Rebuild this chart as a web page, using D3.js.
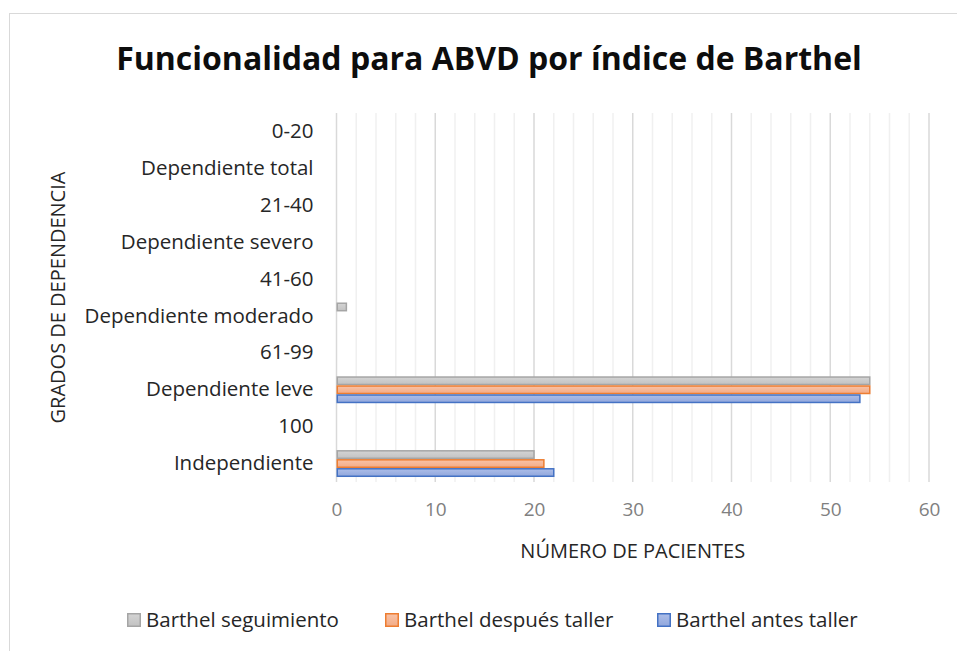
<!DOCTYPE html>
<html>
<head>
<meta charset="utf-8">
<script src="https://cdn.jsdelivr.net/npm/d3@7"></script>
<style>
  body { margin: 0; background: #fff; }
  svg { display: block; font-family: "Open Sans", sans-serif; }
</style>
</head>
<body>
<svg class="chart"></svg>
<script>
var categories = ["0-20", "Dependiente total", "21-40", "Dependiente severo", "41-60",
    "Dependiente moderado", "61-99", "Dependiente leve", "100", "Independiente"];
var antesTaller = [0, 0, 0, 0, 0, 0, 0, 53, 0, 22];
var despuesTaller = [0, 0, 0, 0, 0, 0, 0, 54, 0, 21];
var seguimiento = [0, 0, 0, 0, 0, 1, 0, 54, 0, 20];
var seriesNames = ["Barthel seguimiento", "Barthel después taller", "Barthel antes taller"];
var xTicks = [0, 10, 20, 30, 40, 50, 60];

function show() {
    'use strict';
    var width = 957, height = 651;
    var plot = {left: 336.5, right: 929, top: 113, bottom: 482};
    var font = "'Open Sans', sans-serif";

    var svg = d3.select(".chart")
        .attr("width", width)
        .attr("height", height);

    var series = [
        {name: seriesNames[0], values: seguimiento, id: "g-gray", c1: "#d4d4d4", c2: "#c2c2c2", stroke: "#a5a5a5"},
        {name: seriesNames[1], values: despuesTaller, id: "g-orange", c1: "#f9c3a7", c2: "#f3ab86", stroke: "#ed7d31"},
        {name: seriesNames[2], values: antesTaller, id: "g-blue", c1: "#adbee8", c2: "#91a7dd", stroke: "#4472c4"}
    ];

    // gradient fills like the Excel style
    var defs = svg.append("defs");
    series.forEach(function(s) {
        var grad = defs.append("linearGradient")
            .attr("id", s.id).attr("x1", 0).attr("y1", 0).attr("x2", 0).attr("y2", 1);
        grad.append("stop").attr("offset", "0%").attr("stop-color", s.c1);
        grad.append("stop").attr("offset", "100%").attr("stop-color", s.c2);
    });

    // chart area border
    svg.append("rect")
        .attr("x", 9.5).attr("y", 13.5)
        .attr("width", width + 10).attr("height", height + 10)
        .attr("fill", "#fff").attr("stroke", "#d9d9d9");

    var x = d3.scaleLinear().domain([0, 60]).range([plot.left, plot.right]);
    var y = d3.scaleBand().domain(categories).range([plot.top, plot.bottom])
        .paddingInner(0.27).paddingOuter(0.135);
    var y1 = d3.scaleBand().domain(seriesNames).range([0, y.bandwidth()]);

    // minor gridlines every 2
    svg.append("g").selectAll("line")
        .data(d3.range(2, 60, 2).filter(function(d) { return d % 10 !== 0; }))
        .enter().append("line")
        .attr("x1", x).attr("x2", x)
        .attr("y1", plot.top).attr("y2", plot.bottom)
        .attr("stroke", "#f0f0f0").attr("stroke-width", 1.5);

    // major gridlines
    svg.append("g").selectAll("line")
        .data(xTicks)
        .enter().append("line")
        .attr("x1", x).attr("x2", x)
        .attr("y1", plot.top).attr("y2", plot.bottom)
        .attr("stroke", "#d9d9d9").attr("stroke-width", 1.5);

    // bars
    series.forEach(function(s) {
        svg.append("g").selectAll("rect")
            .data(categories.map(function(c, i) { return {cat: c, v: s.values[i]}; })
                .filter(function(d) { return d.v > 0; }))
            .enter().append("rect")
            .attr("x", x(0) + 0.75)
            .attr("y", function(d) { return y(d.cat) + y1(s.name) + 0.75; })
            .attr("width", function(d) { return x(d.v) - x(0) - 0.75; })
            .attr("height", y1.bandwidth() - 1.5)
            .attr("fill", "url(#" + s.id + ")")
            .attr("stroke", s.stroke)
            .attr("stroke-width", 1.5);
    });

    // x axis labels
    var xAxis = d3.axisBottom(x).tickValues(xTicks).tickSize(0).tickPadding(21);
    var gx = svg.append("g")
        .attr("transform", "translate(0," + plot.bottom + ")")
        .call(xAxis);
    gx.select(".domain").remove();
    gx.selectAll("text")
        .attr("font-size", 19).attr("fill", "#808080")
        .attr("font-family", font);

    // y axis labels
    var yAxis = d3.axisLeft(y).tickSize(0).tickPadding(23);
    var gy = svg.append("g")
        .attr("transform", "translate(" + plot.left + ",0)")
        .call(yAxis);
    gy.select(".domain").remove();
    gy.selectAll("text")
        .attr("font-size", 20.5).attr("fill", "#262626")
        .attr("font-family", font);

    // titles
    svg.append("text")
        .attr("x", 489).attr("y", 70)
        .attr("text-anchor", "middle")
        .attr("font-size", 32).attr("font-weight", "bold").attr("fill", "#0d0d0d")
        .text("Funcionalidad para ABVD por índice de Barthel");

    svg.append("text")
        .attr("x", (plot.left + plot.right) / 2).attr("y", 558)
        .attr("text-anchor", "middle")
        .attr("font-size", 20).attr("fill", "#262626")
        .text("NÚMERO DE PACIENTES");

    svg.append("text")
        .attr("transform", "translate(65," + (plot.top + plot.bottom) / 2 + ") rotate(-90)")
        .attr("text-anchor", "middle")
        .attr("font-size", 20).attr("fill", "#262626")
        .text("GRADOS DE DEPENDENCIA");

    // legend
    var legendX = [127, 385, 657];
    var lg = svg.append("g").selectAll("g")
        .data(series)
        .enter().append("g")
        .attr("transform", function(d, i) { return "translate(" + legendX[i] + ",620)"; });
    lg.append("rect")
        .attr("x", 0.75).attr("y", -6.25)
        .attr("width", 12.5).attr("height", 12.5)
        .attr("fill", function(d) { return "url(#" + d.id + ")"; })
        .attr("stroke", function(d) { return d.stroke; })
        .attr("stroke-width", 1.5);
    lg.append("text")
        .attr("x", 19).attr("y", 7)
        .attr("font-size", 20.5).attr("fill", "#262626")
        .text(function(d) { return d.name; });
}
show();
</script>
</body>
</html>
